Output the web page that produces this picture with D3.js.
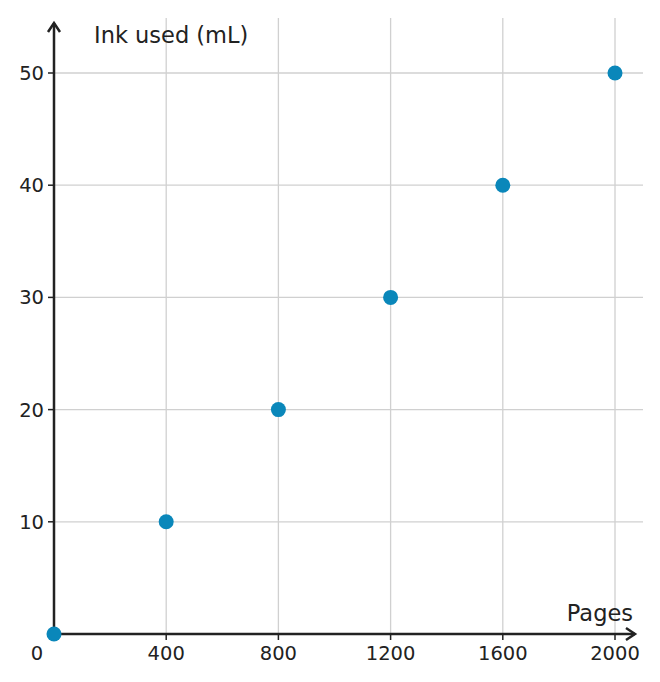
<!DOCTYPE html>
<html><head><meta charset="utf-8">
<script src="https://cdn.jsdelivr.net/npm/d3@7"></script>
<style>body{margin:0;background:#fff}</style>
</head><body><div id="chart"></div>
<script>
// DATA ####################################
const pages = [0, 400, 800, 1200, 1600, 2000];
const ink = [0, 10, 20, 30, 40, 50];
const xTicks = [400, 800, 1200, 1600, 2000];
const yTicks = [10, 20, 30, 40, 50];

const width = 660, height = 682;
const x = d3.scaleLinear().domain([0, 2000]).range([54, 615]);
const y = d3.scaleLinear().domain([0, 50]).range([634, 73]);
const font = "DejaVu Sans, sans-serif";

const svg = d3.select("#chart").append("svg")
    .attr("width", width).attr("height", height);

// grid
svg.append("g").selectAll("line").data(xTicks).join("line")
    .attr("x1", d => x(d)).attr("x2", d => x(d))
    .attr("y1", 18).attr("y2", 634)
    .attr("stroke", "#d0d0d0").attr("stroke-width", 1.3);
svg.append("g").selectAll("line").data(yTicks).join("line")
    .attr("x1", 54).attr("x2", 643)
    .attr("y1", d => y(d)).attr("y2", d => y(d))
    .attr("stroke", "#d0d0d0").attr("stroke-width", 1.3);

// ticks
svg.append("g").selectAll("line").data(yTicks).join("line")
    .attr("x1", 48).attr("x2", 54)
    .attr("y1", d => y(d)).attr("y2", d => y(d))
    .attr("stroke", "#222").attr("stroke-width", 1.5);
svg.append("g").selectAll("line").data(xTicks).join("line")
    .attr("x1", d => x(d)).attr("x2", d => x(d))
    .attr("y1", 634).attr("y2", 640)
    .attr("stroke", "#222").attr("stroke-width", 1.5);

// tick labels
svg.append("g").selectAll("text").data(yTicks).join("text")
    .attr("x", 44).attr("y", d => y(d) + 7)
    .attr("text-anchor", "end")
    .style("font-family", font).style("font-size", "19.5px").style("fill", "#222")
    .text(d => d);
svg.append("g").selectAll("text").data(xTicks).join("text")
    .attr("x", d => x(d)).attr("y", 660)
    .attr("text-anchor", "middle")
    .style("font-family", font).style("font-size", "19.5px").style("fill", "#222")
    .text(d => d);
svg.append("text").attr("x", 37).attr("y", 660).attr("text-anchor", "middle")
    .style("font-family", font).style("font-size", "19.5px").style("fill", "#222")
    .text("0");

// axes with arrows
svg.append("line").attr("x1", 54).attr("y1", 634).attr("x2", 54).attr("y2", 23)
    .attr("stroke", "#222").attr("stroke-width", 2.5);
svg.append("path").attr("d", "M48,32 L54,23 L60,32").attr("fill", "none")
    .attr("stroke", "#222").attr("stroke-width", 2.5);
svg.append("line").attr("x1", 54).attr("y1", 634).attr("x2", 635).attr("y2", 634)
    .attr("stroke", "#222").attr("stroke-width", 2.5);
svg.append("path").attr("d", "M626,628 L635,634 L626,640").attr("fill", "none")
    .attr("stroke", "#222").attr("stroke-width", 2.5);

// axis titles
svg.append("text").attr("x", 94).attr("y", 43)
    .style("font-family", font).style("font-size", "22.5px").style("fill", "#222")
    .text("Ink used (mL)");
svg.append("text").attr("x", 633).attr("y", 621).attr("text-anchor", "end")
    .style("font-family", font).style("font-size", "22.5px").style("fill", "#222")
    .text("Pages");

// points
svg.append("g").selectAll("circle").data(pages).join("circle")
    .attr("cx", d => x(d)).attr("cy", (d, i) => y(ink[i]))
    .attr("r", 7.5).attr("fill", "#0a87ba");
</script></body></html>
